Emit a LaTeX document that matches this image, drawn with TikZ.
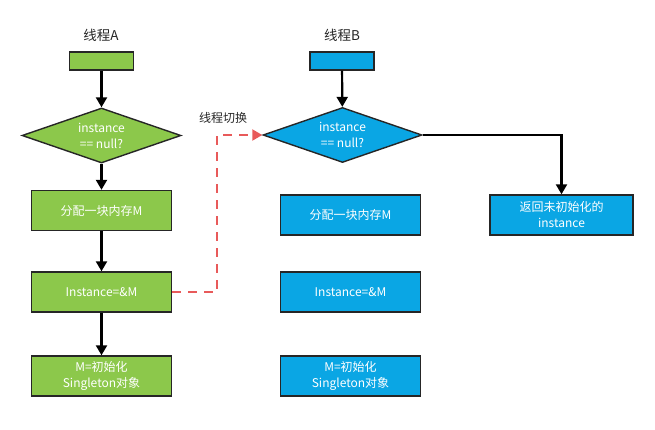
\documentclass[tikz,border=0pt]{standalone}
\usepackage{fontspec}
\setmainfont{Noto Sans CJK SC}
\usetikzlibrary{shapes.geometric,arrows.meta}
\definecolor{gA}{HTML}{8CC84B}
\definecolor{bB}{HTML}{0AA6E4}
\definecolor{rd}{HTML}{E85A5A}
\begin{document}
\begin{tikzpicture}[x=1pt,y=-1pt,
  box/.style={draw=black!85,line width=1.4pt,minimum width=140pt,minimum height=40pt,inner sep=0pt,text=white,font=\fontsize{12}{16}\selectfont,align=center},
  gbox/.style={box,fill=gA},
  bbox/.style={box,fill=bB},
  bar/.style={draw=black!85,line width=1.4pt,minimum width=64pt,minimum height=18pt,inner sep=0pt},
  dia/.style={diamond,draw=black!85,line width=1.4pt,aspect=2.9,inner sep=0pt,minimum width=159pt,minimum height=55pt,text=white,font=\fontsize{12}{16}\selectfont,align=center},
  title/.style={font=\fontsize{13.5}{16}\selectfont,text=black!85},
  arr/.style={-{Triangle[length=10pt,width=11pt]},line width=2.2pt,black},
  dsh/.style={rd,line width=2pt,dash pattern=on 9pt off 7pt,-{Triangle[length=10pt,width=11pt]}}]
\useasboundingbox (0,0) rectangle (655,429);
% Thread A
\node[title] (tA) at (101,35) {线程A};
\node[bar,fill=gA] (barA) at (101.5,61) {};
\node[dia,fill=gA] (dA) at (101.5,135.5) {instance\\== null?};
\node[gbox] (a1) at (101.5,210.5) {分配一块内存M};
\node[gbox] (a2) at (101.5,292) {Instance=\&M};
\node[gbox] (a3) at (101.5,376) {M=初始化\\Singleton对象};
\draw[arr] (barA) -- (dA);
\draw[arr] (dA) -- (a1);
\draw[arr] (a1) -- (a2);
\draw[arr] (a2) -- (a3);
% Thread B
\node[title] (tB) at (342,35) {线程B};
\node[bar,fill=bB] (barB) at (342,61) {};
\node[dia,fill=bB] (dB) at (342.5,135) {instance\\== null?};
\node[bbox] (b1) at (350.5,215) {分配一块内存M};
\node[bbox] (b2) at (350.5,292) {Instance=\&M};
\node[bbox] (b3) at (350.5,376) {M=初始化\\Singleton对象};
\node[bbox,minimum width=143pt] (b4) at (561.5,215) {返回未初始化的\\instance};
\draw[arr] (barB) -- (dB);
\draw[arr] (dB.east) -| (b4.north);
% switch
\coordinate (c1) at (217,292);
\coordinate (c2) at (217,135);
\draw[dsh] (a2.east) -- (c1) -- (c2) -- (dB.west);
\node[font=\fontsize{12}{14}\selectfont,text=black!85] (sw) at (223,118) {线程切换};
\end{tikzpicture}
\end{document}
